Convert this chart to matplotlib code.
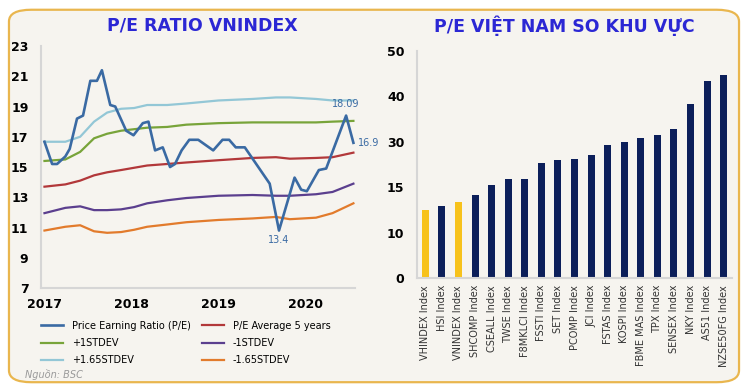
import numpy as np
import matplotlib as mpl
mpl.use('Agg')
from matplotlib import pyplot as plt
from matplotlib.patches import FancyBboxPatch

# ---- left chart: P/E VNINDEX (x in years since 2017) ----
pe_x = [0.00, 0.088, 0.145, 0.24, 0.29, 0.374, 0.443, 0.527, 0.603, 0.66, 0.756, 0.813,
        0.939, 1.023, 1.13, 1.195, 1.271, 1.359, 1.443, 1.50, 1.576, 1.664, 1.767, 1.939,
        2.046, 2.122, 2.198, 2.302, 2.588, 2.695, 2.874, 2.95, 3.015, 3.153, 3.237, 3.466, 3.55]
pe_y = [16.67, 15.2, 15.2, 15.7, 16.2, 18.2, 18.4, 20.7, 20.7, 21.4, 19.1, 19.0,
        17.4, 17.1, 17.9, 18.0, 16.1, 16.3, 15.0, 15.2, 16.1, 16.8, 16.8, 16.1,
        16.8, 16.8, 16.3, 16.3, 13.9, 10.8, 14.3, 13.5, 13.4, 14.8, 14.9, 18.4, 16.6]

band_x = [0.00, 0.24, 0.41, 0.57, 0.72, 0.88, 1.03, 1.18, 1.41, 1.63, 2.00, 2.39, 2.66,
          2.82, 3.12, 3.31, 3.55]
plus165 = [16.67, 16.67, 17.0, 18.0, 18.6, 18.85, 18.9, 19.1, 19.1, 19.2, 19.4, 19.5, 19.6,
           19.6, 19.5, 19.4, 19.4]
plus1 = [15.4, 15.5, 16.0, 16.9, 17.2, 17.4, 17.5, 17.6, 17.65, 17.8, 17.9, 17.95, 17.95,
         17.95, 17.95, 18.0, 18.05]
avg5 = [13.7, 13.85, 14.1, 14.45, 14.65, 14.8, 14.95, 15.1, 15.2, 15.3, 15.45, 15.6, 15.65,
        15.55, 15.6, 15.65, 15.95]
minus1 = [11.95, 12.3, 12.4, 12.15, 12.15, 12.2, 12.35, 12.6, 12.8, 12.95, 13.1, 13.15, 13.1,
          13.1, 13.2, 13.35, 13.9]
minus165 = [10.8, 11.05, 11.15, 10.75, 10.65, 10.7, 10.85, 11.05, 11.2, 11.35, 11.5, 11.6, 11.7,
            11.55, 11.65, 11.95, 12.6]

year_labels = ['2017', '2018', '2019', '2020']
pe_yticks = [7, 9, 11, 13, 15, 17, 19, 21, 23]

# ---- right chart: regional P/E ----
indexes = ['VHINDEX Index', 'HSI Index', 'VNINDEX Index', 'SHCOMP Index', 'CSEALL Index',
           'TWSE Index', 'F8MKLCI Index', 'FSSTI Index', 'SET Index', 'PCOMP Index',
           'JCI Index', 'FSTAS Index', 'KOSPI Index', 'FBME MAS Index', 'TPX Index',
           'SENSEX Index', 'NKY Index', 'AS51 Index', 'NZSE50FG Index']
pe_values = [15.0, 15.9, 16.8, 18.3, 20.4, 21.8, 21.8, 25.4, 26.0, 26.3, 27.1, 29.2, 29.9,
             30.9, 31.4, 32.9, 38.3, 43.3, 44.8]
highlight = ['VHINDEX Index', 'VNINDEX Index']
bar_yticks = [0, 10, 20, 30, 40, 50]
bar_ylabels = ['0', '10', '15', '30', '40', '50']

bg = '#f6f4ef'
title_col = '#2b27d4'
c_pe, c_avg, c_p1, c_m1, c_p165, c_m165 = '#3a6aa3', '#b2383a', '#78a43a', '#5b3f8e', '#93c7d6', '#e27b2c'
navy, gold = '#0c1f5a', '#f7c21b'

fig = plt.figure(figsize=(7.48, 3.90), dpi=100)
fig.patch.set_facecolor('white')
frame = FancyBboxPatch((0.012, 0.02), 0.976, 0.955, boxstyle='round,pad=0,rounding_size=0.03',
                       transform=fig.transFigure, facecolor=bg, edgecolor='#e9b64e', lw=1.6,
                       zorder=-5)
fig.patches.append(frame)

tick_font = dict(fontsize=9, fontweight='heavy', color='black')

# left
ax1 = fig.add_axes([0.0548, 0.2615, 0.42, 0.6205])
ax1.patch.set_alpha(0)
lw = 1.6
l_p165, = ax1.plot(band_x, plus165, color=c_p165, lw=lw, label='+1.65STDEV')
l_p1, = ax1.plot(band_x, plus1, color=c_p1, lw=lw, label='+1STDEV')
l_avg, = ax1.plot(band_x, avg5, color=c_avg, lw=lw, label='P/E Average 5 years')
l_m1, = ax1.plot(band_x, minus1, color=c_m1, lw=lw, label='-1STDEV')
l_m165, = ax1.plot(band_x, minus165, color=c_m165, lw=lw, label='-1.65STDEV')
l_pe, = ax1.plot(pe_x, pe_y, color=c_pe, lw=1.9, label='Price Earning Ratio (P/E)')
ax1.set_xlim(-0.04, 3.57)
ax1.set_ylim(7, 23)
ax1.set_yticks(pe_yticks)
ax1.set_yticklabels([str(v) for v in pe_yticks], **tick_font)
ax1.set_xticks(range(len(year_labels)))
ax1.set_xticklabels(year_labels, **tick_font)
for s in ['top', 'right']:
    ax1.spines[s].set_visible(False)
for s in ['left', 'bottom']:
    ax1.spines[s].set_color('#d6d6d6')
    ax1.spines[s].set_linewidth(1.5)
ax1.tick_params(length=0, pad=7)
ax1.tick_params(axis='y', pad=9)
ax1.annotate('18.09', (pe_x[-2], pe_y[-2]), xytext=(0, 5), textcoords='offset points',
             ha='center', va='bottom', fontsize=7, color=c_pe)
ax1.annotate('16.9', (pe_x[-1], pe_y[-1]), xytext=(3, 0), textcoords='offset points',
             ha='left', va='center', fontsize=7, color=c_pe, annotation_clip=False)
ax1.annotate('13.4', (pe_x[29], pe_y[29]), xytext=(0, -3), textcoords='offset points',
             ha='center', va='top', fontsize=7, color=c_pe)
fig.text(0.27, 0.935, 'P/E RATIO VNINDEX', ha='center', va='center', fontsize=12.5,
         fontweight='heavy', color=title_col)

handles = [l_pe, l_p1, l_p165, l_avg, l_m1, l_m165]
fig.legend(handles=handles, labels=[h.get_label() for h in handles], ncol=2,
           loc='upper left', bbox_to_anchor=(0.043, 0.2), frameon=False, fontsize=7,
           handlelength=2.3, columnspacing=1.1, labelspacing=0.75, handletextpad=0.9)
fig.text(0.033, 0.03, 'Nguồn: BSC', fontsize=7, style='italic', color='#9a9a9a')

# right
ax2 = fig.add_axes([0.5575, 0.2872, 0.4211, 0.582])
ax2.patch.set_alpha(0)
colors = [gold if n in highlight else navy for n in indexes]
ax2.bar(range(len(indexes)), pe_values, width=0.42, color=colors)
ax2.set_xlim(-0.5, len(indexes) - 0.5)
ax2.set_ylim(0, 50)
ax2.set_yticks(bar_yticks)
ax2.set_yticklabels(bar_ylabels, **tick_font)
ax2.set_xticks(range(len(indexes)))
ax2.set_xticklabels(indexes, rotation=90, fontsize=7, color='#333333')
for s in ['top', 'right']:
    ax2.spines[s].set_visible(False)
for s in ['left', 'bottom']:
    ax2.spines[s].set_color('#d6d6d6')
    ax2.spines[s].set_linewidth(1.5)
ax2.tick_params(length=0, pad=5)
ax2.tick_params(axis='y', pad=9)
fig.text(0.755, 0.935, 'P/E VIỆT NAM SO KHU VỰC', ha='center', va='center', fontsize=12.5,
         fontweight='heavy', color=title_col)

fig.savefig('out.png', dpi=100, facecolor=fig.get_facecolor())
